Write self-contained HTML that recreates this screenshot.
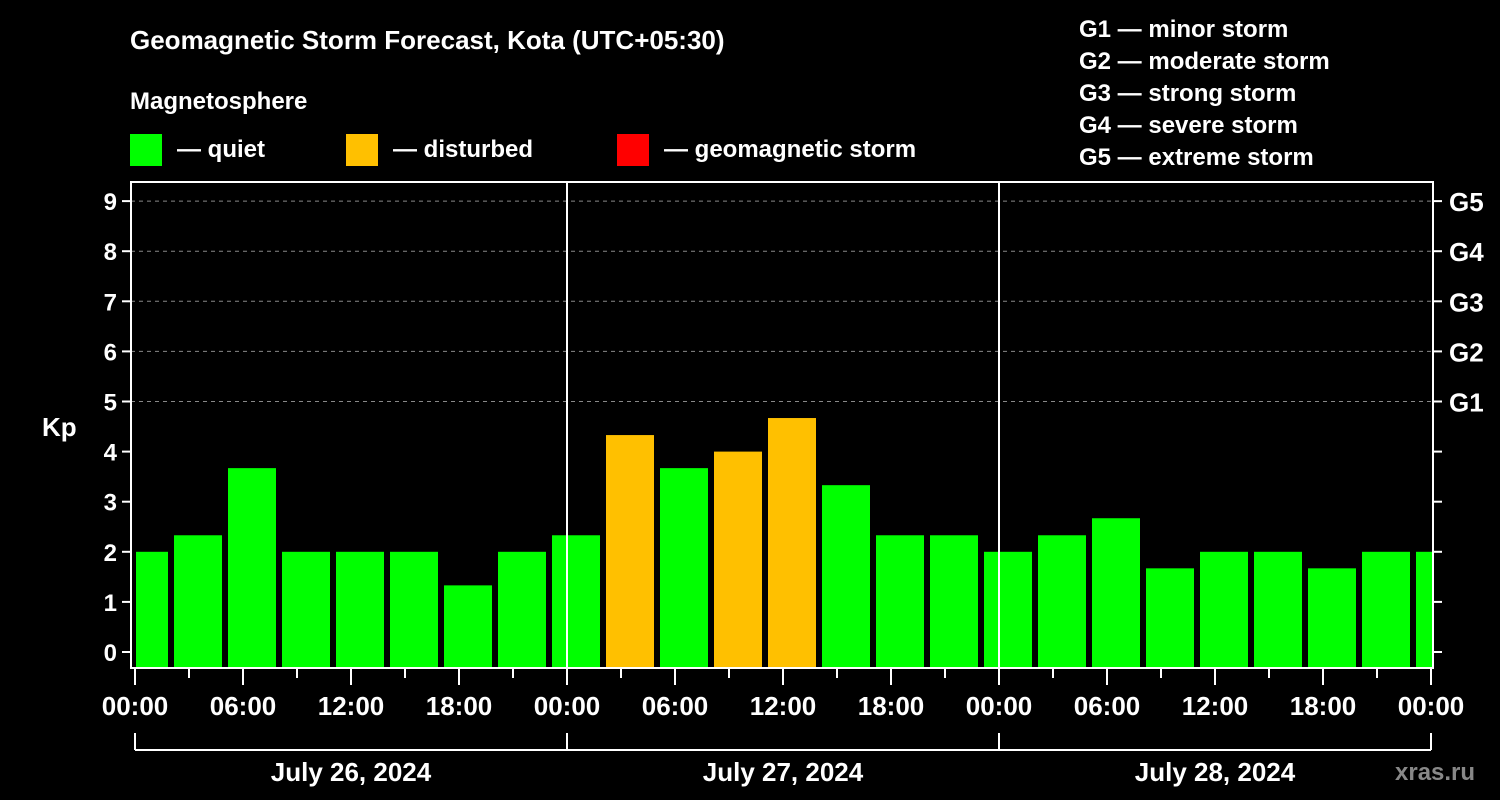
<!DOCTYPE html>
<html><head><meta charset="utf-8"><style>
html,body{margin:0;padding:0;background:#000;}
svg{display:block;font-family:"Liberation Sans",Arial,sans-serif;font-weight:bold;}
</style></head><body>
<svg id="c" width="1500" height="800" viewBox="0 0 1500 800">
<text x="130" y="49" fill="#fff" font-size="26">Geomagnetic Storm Forecast, Kota (UTC+05:30)</text>
<text x="130" y="109" fill="#fff" font-size="24">Magnetosphere</text>
<g><rect x="130" y="134" width="32" height="32" fill="#00ff00"/><text x="177" y="157" fill="#fff" font-size="24">— quiet</text></g>
<g><rect x="346" y="134" width="32" height="32" fill="#ffc000"/><text x="393" y="157" fill="#fff" font-size="24">— disturbed</text></g>
<g><rect x="617" y="134" width="32" height="32" fill="#ff0000"/><text x="664" y="157" fill="#fff" font-size="24">— geomagnetic storm</text></g>
<g fill="#fff" font-size="24">
<text x="1079" y="37">G1 — minor storm</text>
<text x="1079" y="69">G2 — moderate storm</text>
<text x="1079" y="101">G3 — strong storm</text>
<text x="1079" y="133">G4 — severe storm</text>
<text x="1079" y="165">G5 — extreme storm</text>
</g>
<text x="42" y="436" fill="#fff" font-size="26">Kp</text>
<text x="1395" y="780" fill="#888" font-size="24">xras.ru</text>
<g id="grid"></g><g id="bars"></g><g id="axes"></g>
</svg>
<script>
const kpValues=[2,2.33,3.67,2,2,2,1.33,2,2.33,4.33,3.67,4,4.67,3.33,2.33,2.33,2,2.33,2.67,1.67,2,2,1.67,2,2];
const dayLabels=["July 26, 2024","July 27, 2024","July 28, 2024"];
const hourLabels=["00:00","06:00","12:00","18:00"];
const gLabels=["G1","G2","G3","G4","G5"];
const NS="http://www.w3.org/2000/svg";
const X0=135,PXH=18,PL=131,PR=1433,PT=182,PB=668;
function xs(h){return X0+h*PXH;}
function ys(k){return 652-k*50.1;}
function mk(t,a,p){const e=document.createElementNS(NS,t);for(const k in a)e.setAttribute(k,a[k]);p.appendChild(e);return e;}
const grid=document.getElementById('grid'),bars=document.getElementById('bars'),axes=document.getElementById('axes');
const defs=mk('defs',{},bars);const cp=mk('clipPath',{id:'clip'},defs);mk('rect',{x:136,y:PT,width:PR-1-136,height:PB-PT},cp);
const bg=mk('g',{'clip-path':'url(#clip)'},bars);
for(let k=5;k<=9;k++){const l=mk('line',{x1:PL,x2:PR,y1:ys(k),y2:ys(k),stroke:'#888','stroke-dasharray':'4,4','stroke-width':1},grid);

}
kpValues.forEach((v,i)=>{const c=xs(0.5+3*i);const r=mk('rect',{x:c-24,y:ys(v),width:48,height:PB-ys(v),fill:v>=5?'#ff0000':(v>=4?'#ffc000':'#00ff00')},bg);

});
for(let d=1;d<3;d++){const l=mk('line',{x1:xs(24*d),x2:xs(24*d),y1:PT,y2:PB,stroke:'#fff','stroke-width':2},axes);

}
const fr=mk('rect',{x:PL,y:PT,width:PR-PL,height:PB-PT,fill:'none',stroke:'#fff','stroke-width':2},axes);


for(let k=0;k<=9;k++){
mk('line',{x1:PL-9,x2:PL,y1:ys(k),y2:ys(k),stroke:'#fff','stroke-width':2},axes);
mk('line',{x1:PR,x2:PR+9,y1:ys(k),y2:ys(k),stroke:'#fff','stroke-width':2},axes);
const t=mk('text',{x:117,y:ys(k)+9,fill:'#fff','font-size':24,'text-anchor':'end'},axes);t.textContent=k;

}
gLabels.forEach((g,i)=>{const t=mk('text',{x:1449,y:ys(5+i)+10,fill:'#fff','font-size':26},axes);t.textContent=g;

});
for(let h=0;h<=72;h+=3){const long=h%6===0;mk('line',{x1:xs(h),x2:xs(h),y1:PB,y2:PB+(long?17:10),stroke:'#fff','stroke-width':2},axes);}
for(let h=0;h<=72;h+=6){const t=mk('text',{x:xs(h),y:715,fill:'#fff','font-size':26,'text-anchor':'middle'},axes);t.textContent=hourLabels[(h/6)%4];

}
mk('line',{x1:xs(0),x2:xs(72),y1:750,y2:750,stroke:'#fff','stroke-width':2},axes);
for(let d=0;d<=3;d++)mk('line',{x1:xs(24*d),x2:xs(24*d),y1:733,y2:750,stroke:'#fff','stroke-width':2},axes);
dayLabels.forEach((s,d)=>{const t=mk('text',{x:xs(24*d+12),y:781,fill:'#fff','font-size':26,'text-anchor':'middle'},axes);t.textContent=s;

});
</script>
</body></html>
